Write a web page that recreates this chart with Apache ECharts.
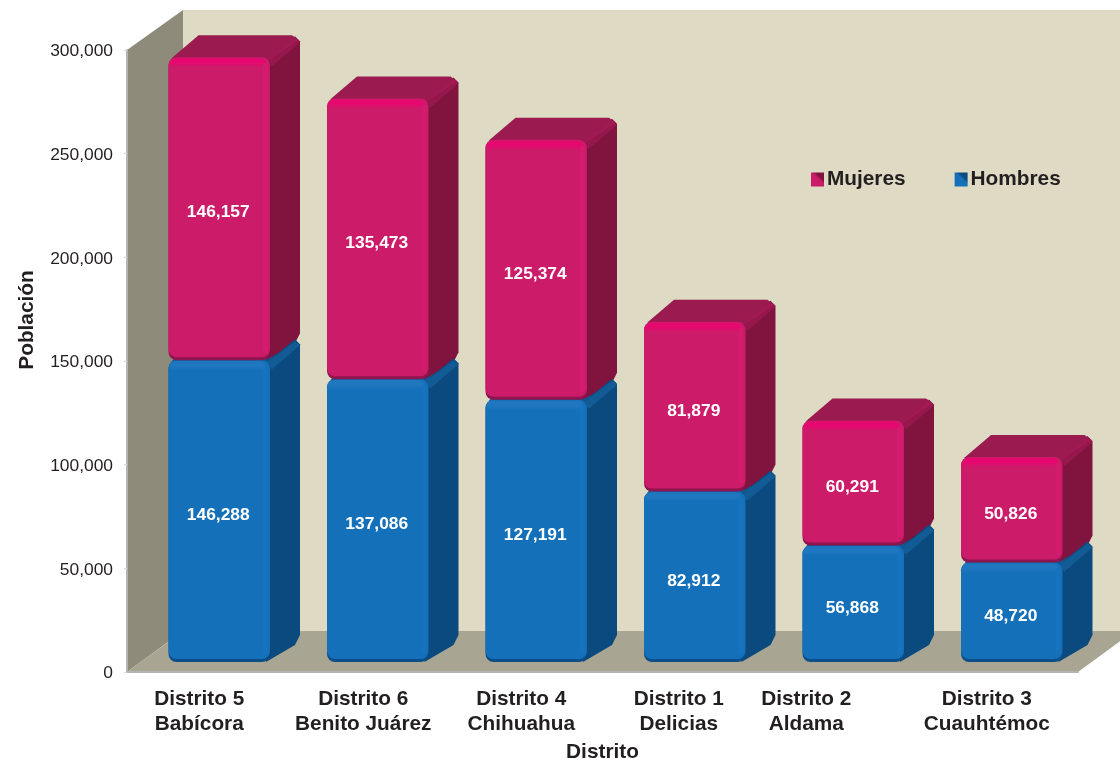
<!DOCTYPE html>
<html>
<head>
<meta charset="utf-8">
<style>html,body{margin:0;padding:0;background:#fff}#c{width:1120px;height:762px}</style>
<script src="https://cdn.jsdelivr.net/npm/echarts@6/dist/echarts.min.js"></script>
</head>
<body>
<div id="c"></div>
<script>
const distritos = ['Distrito 5', 'Distrito 6', 'Distrito 4', 'Distrito 1', 'Distrito 2', 'Distrito 3'];
const nombres = ['Babícora', 'Benito Juárez', 'Chihuahua', 'Delicias', 'Aldama', 'Cuauhtémoc'];
const hombres = [146288, 137086, 127191, 82912, 56868, 48720];
const mujeres = [146157, 135473, 125374, 81879, 60291, 50826];
const yTicks = [0, 50000, 100000, 150000, 200000, 250000, 300000];

const FONT = '"Liberation Sans", Arial, sans-serif';
const INK = '#231f20';
const WALL = {dx: 56, dy: 41};
const BAR = {dx: 30, dy: 22, shiftX: 13, shiftY: 10, topShift: 8.5, ratio: 0.64};
const labelShift = [14, 3, 4, 6, 68, 24];
const PINK = {front: '#cc1b69', edge: '#8e1550', strip: '#e5096f', right: '#d41c6e', side: '#80143f', top: '#9b1a50', corner: '#a81a55'};
const BLUE = {front: '#1570ba', edge: '#0c4f88', strip: '#1f78bf', right: '#1773bd', side: '#0b4a7e', top: '#0f5a96', corner: '#1a6aa8'};

const fmt = v => v.toLocaleString('en-US');
const cats = distritos.map((d, i) => d + '\n' + nombres[i]);

function renderWalls(params, api) {
  const c = params.coordSys;
  const x0 = c.x, x1 = c.x + c.width, yb = c.y + c.height, yt = c.y;
  const dx = WALL.dx, dy = WALL.dy;
  return {type: 'group', silent: true, children: [
    {type: 'rect', shape: {x: x0 + dx, y: yt - dy + 1, width: x1 - x0 + dx, height: yb - yt}, style: {fill: '#dedac3'}},
    {type: 'polygon', shape: {points: [[x0, yt], [x0 + dx, yt - dy + 1], [x0 + dx, yb - dy], [x0, yb]]}, style: {fill: '#8f8b7b'}},
    {type: 'polygon', shape: {points: [[x0, yb], [x0 + dx, yb - dy], [x1 + dx, yb - dy], [x1, yb]]}, style: {fill: '#a8a593'}}
  ]};
}

function renderBar(pal, rank) {
  return function (params, api) {
    const i = api.value(0);
    const low = api.coord([i, api.value(1)]);
    const high = api.coord([i, api.value(2)]);
    const w = api.size([1, 0])[0] * BAR.ratio;
    const x = low[0] - w / 2 + BAR.shiftX;
    const yb = low[1] - (api.value(1) === 0 ? BAR.shiftY : BAR.topShift);
    const yt = high[1] - BAR.topShift;
    const h = yb - yt;
    const dx = BAR.dx, dy = BAR.dy, r = 8, xr = x + w;
    const sideZ = rank * 10, topZ = rank === 2 ? 5 : 11, frontZ = 100 + (rank === 1 ? 20 : 0);
    const c = 5;
    return {type: 'group', children: [
      {type: 'polygon', z2: sideZ, shape: {points: [
        [xr - 3, yt + 2], [xr + dx - c, yt - dy + 1], [xr + dx, yt - dy + c + 1],
        [xr + dx, yb - dy - c], [xr + dx - c, yb - dy + c], [xr - 4, yb]
      ]}, style: {fill: pal.side}},
      {type: 'polygon', z2: topZ, shape: {points: [
        [x + 3, yt + 1], [x + dx, yt - dy], [xr + dx - 8, yt - dy], [xr + dx - 1, yt - dy + 5], [xr - 3, yt + 4]
      ]}, style: {fill: pal.top}},
      {type: 'polygon', z2: rank === 2 ? 21 : topZ + 1, shape: {points: [
        [xr - 4, yt + 3], [xr + dx - 5, yt - dy + 3], [xr + dx, yt - dy + 7], [xr + 2, yt + 9]
      ]}, style: {fill: pal.corner, opacity: 0.55}},
      {type: 'rect', z2: frontZ, shape: {x: x, y: yt, width: w, height: h, r: r}, style: {fill: pal.edge}},
      {type: 'rect', z2: frontZ + 1, shape: {x: x, y: yt, width: w, height: h - 3, r: r}, style: {fill: pal.front}},
      {type: 'rect', z2: frontZ + 2, shape: {x: x + 1, y: yt + 1, width: w - 5, height: 9, r: [6, 6, 0, 0]}, style: {
        fill: new echarts.graphic.LinearGradient(0, 0, 0, 1, [
          {offset: 0, color: pal.strip}, {offset: 0.55, color: pal.strip}, {offset: 1, color: pal.front}
        ])
      }},
      {type: 'rect', z2: frontZ + 2, shape: {x: xr - 7, y: yt + 6, width: 5, height: h - 14, r: 2}, style: {fill: pal.right}},
      {type: 'text', z2: frontZ + 5, style: {
        x: x + w / 2 - 1, y: (yt + yb) / 2 + 4,
        text: fmt(api.value(2) - api.value(1)),
        fill: '#fff', font: 'bold 17.4px ' + FONT, align: 'center', verticalAlign: 'middle'
      }}
    ]};
  };
}

const rich = {};
labelShift.forEach((s, i) => {
  rich['c' + i] = {fontFamily: FONT, fontWeight: 'bold', fontSize: 20.8, color: INK, lineHeight: 25, padding: [0, s, 0, 0]};
});

function legendFill(light, dark) {
  return new echarts.graphic.LinearGradient(0, 1, 1, 0, [
    {offset: 0, color: light}, {offset: 0.55, color: light}, {offset: 0.7, color: dark}, {offset: 1, color: dark}
  ]);
}

const chart = echarts.init(document.getElementById('c'), null, {renderer: 'canvas'});
chart.setOption({
  animation: false,
  backgroundColor: '#fff',
  grid: {left: 127, top: 50, width: 951, height: 622, containLabel: false, outerBoundsMode: 'none'},
  legend: {
    left: 811, top: 169, padding: 0, itemWidth: 13, itemHeight: 14, itemGap: 49,
    data: [
      {name: 'Mujeres', itemStyle: {color: legendFill(PINK.front, PINK.side)}, icon: 'rect'},
      {name: 'Hombres', itemStyle: {color: legendFill(BLUE.front, BLUE.side)}, icon: 'rect'}
    ],
    textStyle: {fontFamily: FONT, fontWeight: 'bold', fontSize: 20.8, color: INK, padding: [2, 0, 0, -2]},
    selectedMode: false
  },
  xAxis: {
    type: 'category', data: cats, z: 5,
    name: 'Distrito', nameLocation: 'middle', nameGap: 70,
    nameTextStyle: {fontFamily: FONT, fontWeight: 'bold', fontSize: 20.8, color: INK},
    axisLine: {lineStyle: {color: '#b4b4b4', width: 2}},
    axisTick: {show: false},
    axisLabel: {
      interval: 0, margin: 15,
      formatter: (v, i) => v.split('\n').map(t => '{c' + i + '|' + t + '}').join('\n'),
      rich: rich
    }
  },
  yAxis: {
    type: 'value', min: 0, max: 300000, interval: 50000, z: 5,
    name: 'Población', nameLocation: 'middle', nameGap: 89, nameRotate: 90,
    nameTextStyle: {fontFamily: FONT, fontWeight: 'bold', fontSize: 20.8, color: INK, padding: [0, 0, 0, 82]},
    axisLine: {show: true, lineStyle: {color: '#b4b4b4', width: 2}},
    axisTick: {show: true, length: 3, lineStyle: {color: '#d8d8d8'}},
    splitLine: {show: false},
    axisLabel: {
      margin: 14, fontFamily: FONT, fontSize: 17.4, color: INK,
      verticalAlign: 'top', padding: [-7, 0, 0, 0],
      customValues: yTicks, formatter: v => fmt(v)
    }
  },
  series: [
    {type: 'custom', name: 'fondo', z: 1, silent: true, clip: false, coordinateSystem: 'cartesian2d',
      data: [[0, 0]], renderItem: renderWalls, legendHoverLink: false, tooltip: {show: false}},
    {type: 'custom', name: 'Hombres', z: 2, clip: false, coordinateSystem: 'cartesian2d',
      itemStyle: {color: BLUE.front}, renderItem: renderBar(BLUE, 2),
      encode: {x: 0, y: 2},
      data: hombres.map((v, i) => [i, 0, v])},
    {type: 'custom', name: 'Mujeres', z: 2, clip: false, coordinateSystem: 'cartesian2d',
      itemStyle: {color: PINK.front}, renderItem: renderBar(PINK, 1),
      encode: {x: 0, y: 2},
      data: mujeres.map((v, i) => [i, hombres[i], hombres[i] + v])}
  ]
});
</script>
</body>
</html>
